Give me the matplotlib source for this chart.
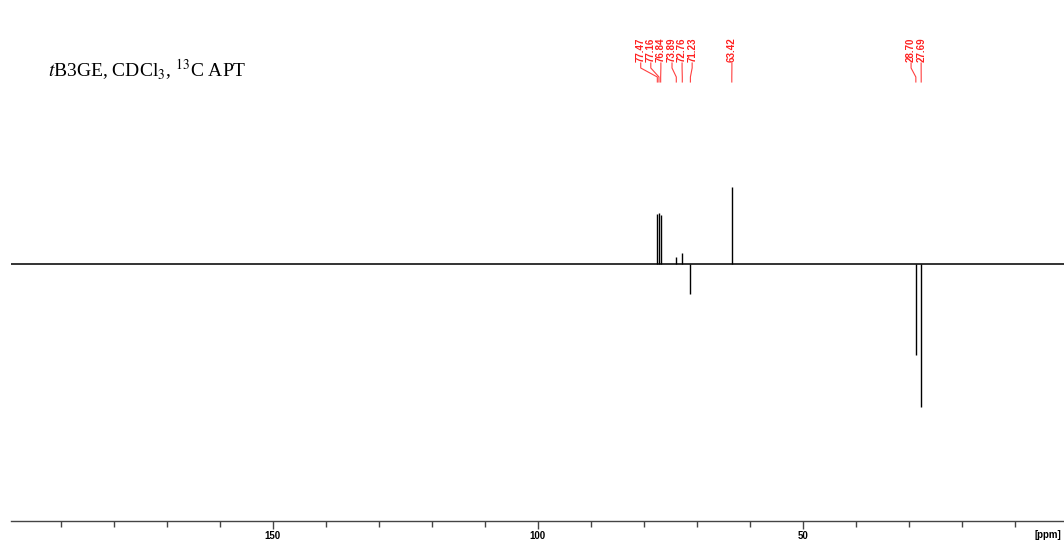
import matplotlib.pyplot as plt

plt.rcParams['mathtext.fontset'] = 'stix'

# peak list (ppm) and APT intensities (arbitrary units, + = up, - = down)
peak_ppm = [77.47, 77.16, 76.84, 73.89, 72.76, 71.23, 63.42, 28.70, 27.69]
peak_int = [50, 51, 49, 7, 11, -30, 77, -91, -143]
peak_labels = ['77.47', '77.16', '76.84', '73.89', '72.76', '71.23', '63.42', '28.70', '27.69']

# where the rotated labels sit (ppm), spread so they don't overlap
label_ppm = [80.6, 78.7, 76.8, 74.7, 72.8, 70.9, 63.4, 29.6, 27.7]

major_ticks = [150, 100, 50]
minor_ticks = [190, 180, 170, 160, 140, 130, 120, 110, 90, 80, 70, 60, 40, 30, 20, 10]

fig = plt.figure(figsize=(10.64, 5.43), dpi=100)
ax = fig.add_axes([11 / 1064, 22 / 543, 1 - 11 / 1064, 521 / 543])

x_left, x_right = 199.4, 0.75
ax.set_xlim(x_left, x_right)
ax.set_ylim(-257, 264)

# baseline
ax.plot([x_left, x_right], [0, 0], color='#333333', lw=1.4)

# peaks
ax.vlines(peak_ppm, 0, peak_int, color='black', lw=1.0)

# peak labels with leader lines (y in pixel-like data units)
for lp, pp, txt in zip(label_ppm, peak_ppm, peak_labels):
    ax.text(lp, 202, txt, rotation=90, color='#ff2020', fontsize=7,
            fontweight='bold', family='Liberation Sans', ha='center', va='bottom')
    ax.plot([lp, lp, pp, pp], [201, 196, 187, 182], color='#ff4040', lw=0.8)

ax.text(48 / 1064, 1 - 77 / 543, '$\\it{t}$B3GE, CDCl$_3$, $^{13}$C APT',
        transform=fig.transFigure, family='Liberation Serif', fontsize=14,
        ha='left', va='baseline')

for s in ['top', 'left', 'right']:
    ax.spines[s].set_visible(False)
ax.spines['bottom'].set_color('#444444')
ax.spines['bottom'].set_linewidth(1.0)
ax.set_yticks([])
ax.set_xticks(major_ticks)
ax.set_xticklabels([str(t) for t in major_ticks], fontsize=7, fontweight='bold',
                   family='Liberation Sans')
ax.set_xticks(minor_ticks, minor=True)
ax.tick_params(axis='x', which='major', length=6, width=1, color='#444444', pad=1.5)
ax.tick_params(axis='x', which='minor', length=4, width=1, color='#444444')

fig.text(1061 / 1064, 8 / 543, '[ppm]', fontsize=7, fontweight='bold',
         family='Liberation Sans', ha='right', va='center')

fig.savefig('out.png', dpi=100)
